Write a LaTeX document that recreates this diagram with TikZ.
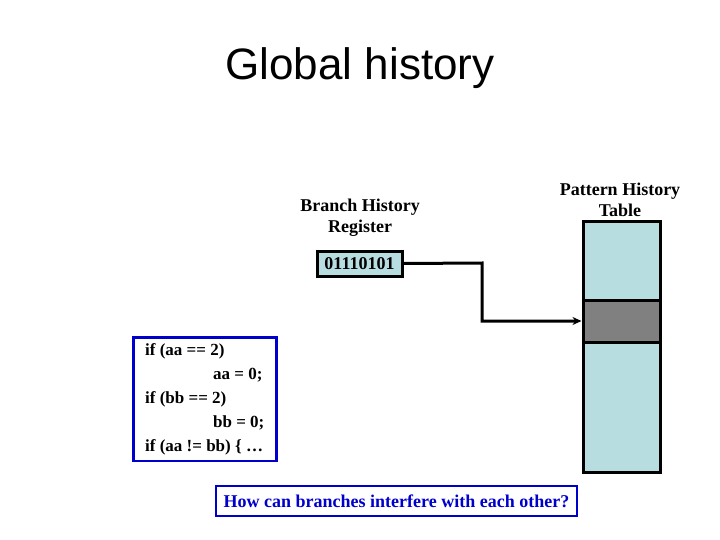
\documentclass[tikz,border=0pt]{standalone}
\usepackage{fontspec}
\setmainfont{Liberation Serif}
\newfontfamily\titlefont{Liberation Sans}
\usetikzlibrary{positioning}
\usetikzlibrary{arrows.meta}
\definecolor{cellblue}{HTML}{B8DDE1}
\definecolor{boxblue}{HTML}{0000CC}
\tikzset{
  label text/.style={font=\fontsize{18}{21}\selectfont\bfseries, align=center},
  cell/.style={draw, line width=3pt, fill=cellblue},
  frame/.style={draw=boxblue, line width=2.5pt, fill=white}
}
\begin{document}
\begin{tikzpicture}[x=1pt, y=-1pt]
        \useasboundingbox (0,0) rectangle (720,540);
        \node[font=\titlefont\fontsize{44}{50}\selectfont] (title) at (360,68) {Global history};

        \node[label text] (bhr label) at (360,218) {Branch History\\Register};
        \node[cell, font=\fontsize{18}{21}\selectfont\bfseries, minimum width=85pt, minimum height=25pt, inner sep=0pt] (bhr) at (359.5,263.5) {01110101};

        \node[label text] (pht label) at (620,200) {Pattern History\\Table};
        \node[cell, minimum width=77pt, minimum height=250pt, inner sep=0pt] (pht) at (621.5,347) {};
        \node[cell, fill=gray, minimum width=77pt, minimum height=42pt, inner sep=0pt] (entry) at (621.5,321) {};

        \coordinate (bend) at (482,263);
        \draw[line width=3pt, -{Stealth[length=9pt, width=8pt]}] (bhr.east) -- (bend) |- (entry.west);

        \node[frame, anchor=north west, align=left, font=\fontsize{17}{24}\selectfont\bfseries, inner xsep=3pt, inner ysep=6pt, minimum width=143pt, minimum height=118pt] (code) at (132,336)
          {if (aa == 2)\\\hspace*{68pt}aa = 0;\\if (bb == 2)\\\hspace*{68pt}bb = 0;\\if (aa != bb) \{ \dots};

        \node[frame, text=boxblue, font=\fontsize{18}{21}\selectfont\bfseries, minimum width=361pt, minimum height=30pt, inner sep=0pt] (question) at (396.5,501) {How can branches interfere with each other?};
\end{tikzpicture}
\end{document}
